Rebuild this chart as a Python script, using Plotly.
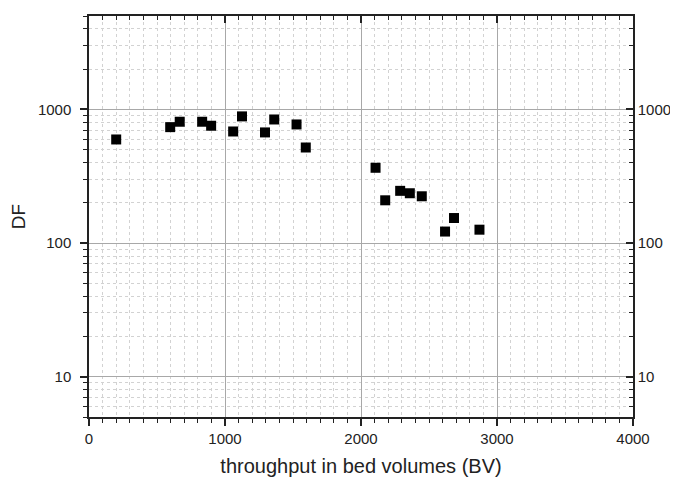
import plotly.graph_objects as go
import math

# Data
bed_volumes = [200, 597, 667, 832, 898, 1060, 1125, 1294, 1362, 1526, 1594,
               2107, 2178, 2288, 2359, 2447, 2618, 2684, 2871]
df_values = [596, 737, 809, 809, 755, 684, 887, 673, 841, 772, 519,
             366, 209, 246, 236, 224, 122, 154, 126]

x_range = [0, 4000]
y_range = [math.log10(5), math.log10(5000)]
y_ticks = [10, 100, 1000]
x_ticks = [0, 1000, 2000, 3000, 4000]

FONT = "Liberation Sans, Arial, sans-serif"
AX = "#222222"
MAJOR_GRID = "#a8a8a8"
MINOR_GRID = "#d2d2d2"
MINOR_DASH = "3px,3px"

fig = go.Figure()
fig.add_trace(go.Scatter(
    x=bed_volumes, y=df_values, mode="markers",
    marker=dict(symbol="square", size=10, color="black"),
    showlegend=False, hoverinfo="x+y"))
# invisible copy to carry the mirrored (top/right) axes
fig.add_trace(go.Scatter(
    x=bed_volumes, y=df_values, mode="markers", xaxis="x2", yaxis="y2",
    marker=dict(size=1, opacity=0), showlegend=False, hoverinfo="skip"))

common_x = dict(range=x_range, showline=True, linecolor=AX, linewidth=1.5,
                zeroline=False, automargin=False)
common_y = dict(type="log", range=y_range, showline=True, linecolor=AX,
                linewidth=1.5, zeroline=False, automargin=False)

# page body adds an 8px offset, so the figure is 8px smaller on each side
fig.update_layout(
    width=670, height=469,
    margin=dict(l=81, r=45, t=8, b=60),
    paper_bgcolor="white", plot_bgcolor="white",
    font=dict(family=FONT, size=15, color="#222222"),
    xaxis=dict(**common_x,
               tickvals=x_ticks, ticks="outside", ticklen=7, tickwidth=1.5,
               tickcolor=AX,
               showgrid=True, gridcolor=MAJOR_GRID, gridwidth=1.2,
               minor=dict(dtick=100, ticks="outside", ticklen=4, tickwidth=1.2,
                          tickcolor=AX, showgrid=True, gridcolor=MINOR_GRID,
                          griddash=MINOR_DASH, gridwidth=1),
               title=dict(text="throughput in bed volumes (BV)",
                          font=dict(size=20), standoff=18)),
    xaxis2=dict(**common_x, overlaying="x", side="top", anchor="y2",
                tickvals=x_ticks, ticks="inside", ticklen=7, tickwidth=1.5,
                tickcolor=AX, showticklabels=False, showgrid=False,
                minor=dict(dtick=100, ticks="inside", ticklen=4, tickwidth=1.2,
                           tickcolor=AX, showgrid=False)),
    yaxis=dict(**common_y,
               tickvals=y_ticks, ticktext=[str(v) for v in y_ticks],
               ticks="outside", ticklen=7, tickwidth=1.5, tickcolor=AX,
               ticklabelstandoff=6,
               showgrid=True, gridcolor=MAJOR_GRID, gridwidth=1.2,
               minor=dict(dtick="D1", ticks="outside", ticklen=4, tickwidth=1.2,
                          tickcolor=AX, showgrid=True, gridcolor=MINOR_GRID,
                          griddash=MINOR_DASH, gridwidth=1),
               title=dict(text="DF", font=dict(size=19), standoff=8)),
    yaxis2=dict(**common_y, overlaying="y", side="right", anchor="x2",
                tickvals=y_ticks, ticktext=[str(v) for v in y_ticks],
                ticks="inside", ticklen=7, tickwidth=1.5, tickcolor=AX,
                showgrid=False,
                minor=dict(dtick="D1", ticks="inside", ticklen=4, tickwidth=1.2,
                           tickcolor=AX, showgrid=False)),
)

fig.write_html("out.html")
